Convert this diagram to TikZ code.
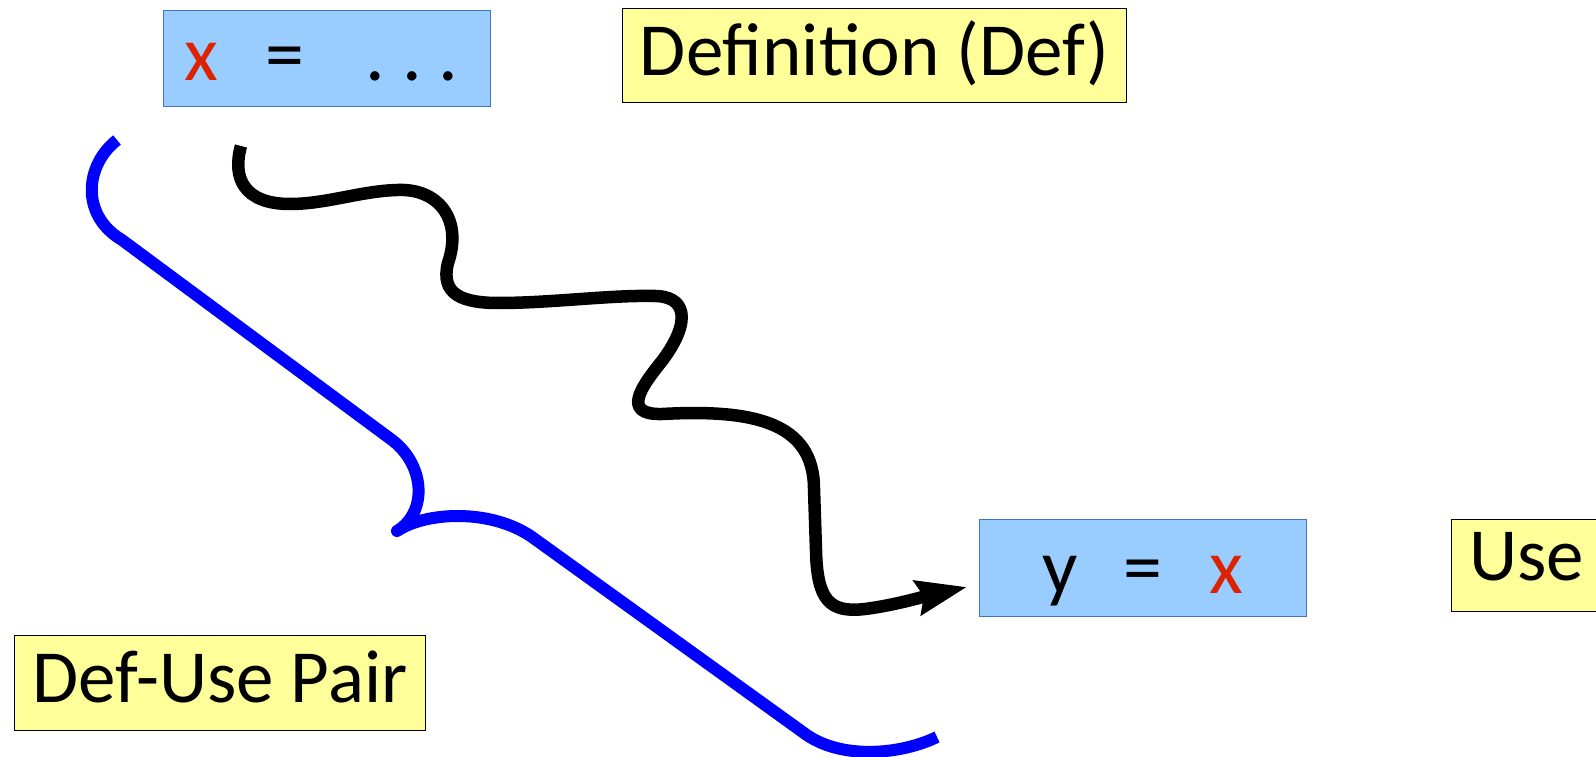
\documentclass[tikz,border=0pt]{standalone}
\usepackage{fontspec}
\setmainfont{Carlito}
\usetikzlibrary{arrows.meta}
\definecolor{codeblue}{RGB}{153,204,255}
\definecolor{codeedge}{RGB}{68,114,196}
\definecolor{noteyellow}{RGB}{255,255,153}
\definecolor{varred}{RGB}{221,34,0}
\begin{document}
\begin{tikzpicture}[x=1pt,y=-1pt,
  codebox/.style={draw=codeedge,line width=1pt,fill=codeblue,inner sep=0pt},
  notebox/.style={draw=black,line width=1pt,fill=noteyellow,inner sep=0pt},
  labeltext/.style={inner sep=0pt,anchor=base,font=\fontsize{75}{90}\selectfont},
  codetext/.style={inner sep=0pt,anchor=base,font=\fontsize{78}{94}\selectfont},
  bracepath/.style={draw=blue,line width=12pt,line cap=butt,line join=round},
  flowpath/.style={draw=black,line width=12.5pt,line cap=butt,line join=round,
    -{Stealth[length=50pt,width=34pt,inset=6pt]}}]
\useasboundingbox (0,0) rectangle (1596,757);
\clip (0,0) rectangle (1596,757);

% boxes
\node[codebox,minimum width=327pt,minimum height=96pt] (xbox) at (326.5,59) {};
\node[notebox,minimum width=504pt,minimum height=94pt] (defbox) at (874,56) {};
\node[codebox,minimum width=327pt,minimum height=97pt] (ybox) at (1142.5,567.5) {};
\node[notebox,minimum width=148pt,minimum height=92pt] (usebox) at (1525,565) {};
\node[notebox,minimum width=411pt,minimum height=95pt] (pairbox) at (219.5,682.5) {};

% texts
\node[codetext,text=varred] (xvar) at (201,81) {x};
\node[codetext] (xeq) at (284.5,81) {=};
\node[codetext] (xdots) at (412,81) {.\hspace{17pt}.\hspace{17pt}.};
\node[labeltext] (deftext) at (874.5,76) {Definition (Def)};
\node[codetext] (yvar) at (1060,593) {y};
\node[codetext] (yeq) at (1142.5,593) {=};
\node[codetext,text=varred] (yx) at (1226.5,593) {x};
\node[labeltext] (usetext) at (1526.5,580) {Use};
\node[labeltext] (pairtext) at (220,702) {Def-Use Pair};

% wavy def-use path
\coordinate (wstart) at (241,146);
\coordinate (wend) at (967,587);
\draw[flowpath] (wstart)
  .. controls (232,178) and (244,204) .. (290,204)
  .. controls (326,204) and (361,191) .. (397,190)
  .. controls (438,188) and (463,219) .. (448,263)
  .. controls (440,295) and (463,303) .. (499,303)
  .. controls (550,303) and (611,295) .. (652,296)
  .. controls (687,295) and (692,321) .. (662,361)
  .. controls (641,387) and (621,415) .. (662,414)
  .. controls (753,409) and (814,422) .. (814,489)
  -- (816,550)
  .. controls (817,601) and (830,613) .. (865,609)
  .. controls (896,605) and (926,596) .. (wend);

% blue brace
\coordinate (bstart) at (117,140);
\coordinate (btip) at (397,531);
\coordinate (bend) at (937,737);
\draw[bracepath] (bstart) .. controls (85,165) and (80,215) .. (122,240)
  -- (392,440) .. controls (425,465) and (428,512) .. (btip)
  .. controls (425,512) and (490,508) .. (532,537)
  -- (804,733) .. controls (840,760) and (900,755) .. (bend);
\end{tikzpicture}
\end{document}
